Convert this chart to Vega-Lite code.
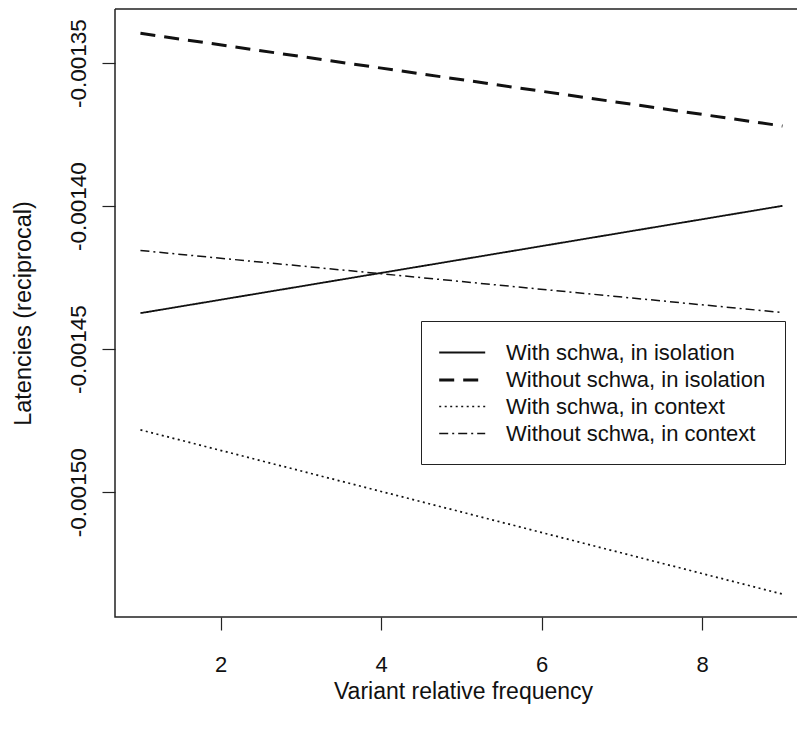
{
  "$schema": "https://vega.github.io/schema/vega-lite/v6.json",
  "width": 682,
  "height": 608,
  "autosize": {"type": "none"},
  "padding": {"left": 115, "top": 9, "right": 0, "bottom": 116},
  "background": "white",
  "config": {
    "font": "Liberation Sans",
    "view": {"stroke": "#222", "strokeWidth": 1.5, "strokeDash": [682, 608, 1290, 0]}
  },
  "data": {
    "values": [
      {"series": "With schwa, in isolation", "freq": 1, "latency": -0.0014374},
      {"series": "With schwa, in isolation", "freq": 9, "latency": -0.0013999},
      {"series": "Without schwa, in isolation", "freq": 1, "latency": -0.0013396},
      {"series": "Without schwa, in isolation", "freq": 9, "latency": -0.0013720},
      {"series": "With schwa, in context", "freq": 1, "latency": -0.0014782},
      {"series": "With schwa, in context", "freq": 9, "latency": -0.0015356},
      {"series": "Without schwa, in context", "freq": 1, "latency": -0.0014155},
      {"series": "Without schwa, in context", "freq": 9, "latency": -0.0014372}
    ]
  },
  "mark": {"type": "line", "clip": true, "color": "#111"},
  "encoding": {
    "x": {
      "field": "freq",
      "type": "quantitative",
      "scale": {"domain": [0.683, 9.181], "nice": false, "zero": false},
      "axis": {
        "values": [2, 4, 6, 8],
        "domain": false,
        "grid": false,
        "ticks": true,
        "tickSize": 13,
        "tickColor": "#222",
        "tickWidth": 1.2,
        "labelFontSize": 22,
        "labelColor": "#111",
        "labelBaseline": "middle",
        "labelPadding": 34,
        "labelFlush": false,
        "title": "Variant relative frequency",
        "titleFontSize": 23,
        "titleFontWeight": "normal",
        "titleColor": "#111",
        "titleAlign": "center",
        "titleBaseline": "middle",
        "titleX": 348,
        "titleY": 74
      }
    },
    "y": {
      "field": "latency",
      "type": "quantitative",
      "scale": {"domain": [-0.0015436, -0.0013311], "nice": false, "zero": false},
      "axis": {
        "values": [-0.00135, -0.0014, -0.00145, -0.0015],
        "labelExpr": "'-' + format(abs(datum.value), '.5f')",
        "domain": false,
        "grid": false,
        "tickSize": 13,
        "tickColor": "#222",
        "tickWidth": 1.2,
        "labelFontSize": 22.5,
        "labelColor": "#111",
        "labelAngle": 270,
        "labelAlign": "center",
        "labelBaseline": "middle",
        "labelPadding": 24,
        "labelFlush": false,
        "title": "Latencies (reciprocal)",
        "titleFontSize": 23.5,
        "titleFontWeight": "normal",
        "titleColor": "#111",
        "titleAngle": 270,
        "titleAlign": "center",
        "titleBaseline": "middle",
        "titleX": -92,
        "titleY": 304
      }
    },
    "strokeDash": {
      "field": "series",
      "type": "nominal",
      "scale": {
        "domain": ["With schwa, in isolation", "Without schwa, in isolation", "With schwa, in context", "Without schwa, in context"],
        "range": [[1, 0], [15, 9], [2, 3.5], [9, 4, 2, 4]]
      },
      "legend": {
        "title": null,
        "orient": "none",
        "legendX": 306,
        "legendY": 312,
        "symbolType": "M-1.2,0H2.8",
        "symbolSize": 529,
        "labelFontSize": 22,
        "labelColor": "#111",
        "labelOffset": 40,
        "labelLimit": 0,
        "padding": 19,
        "rowPadding": 3,
        "strokeColor": "#222",
        "fillColor": "white"
      }
    },
    "strokeWidth": {
      "field": "series",
      "type": "nominal",
      "scale": {
        "type": "ordinal",
        "domain": ["With schwa, in isolation", "Without schwa, in isolation", "With schwa, in context", "Without schwa, in context"],
        "range": [1.8, 3, 1.7, 1.5]
      },
      "legend": {
        "title": null,
        "orient": "none",
        "legendX": 306,
        "legendY": 312,
        "symbolType": "M-1.2,0H2.8",
        "symbolSize": 529,
        "labelFontSize": 22,
        "labelColor": "#111",
        "labelOffset": 40,
        "labelLimit": 0,
        "padding": 19,
        "rowPadding": 3,
        "strokeColor": "#222",
        "fillColor": "white"
      }
    }
  }
}
